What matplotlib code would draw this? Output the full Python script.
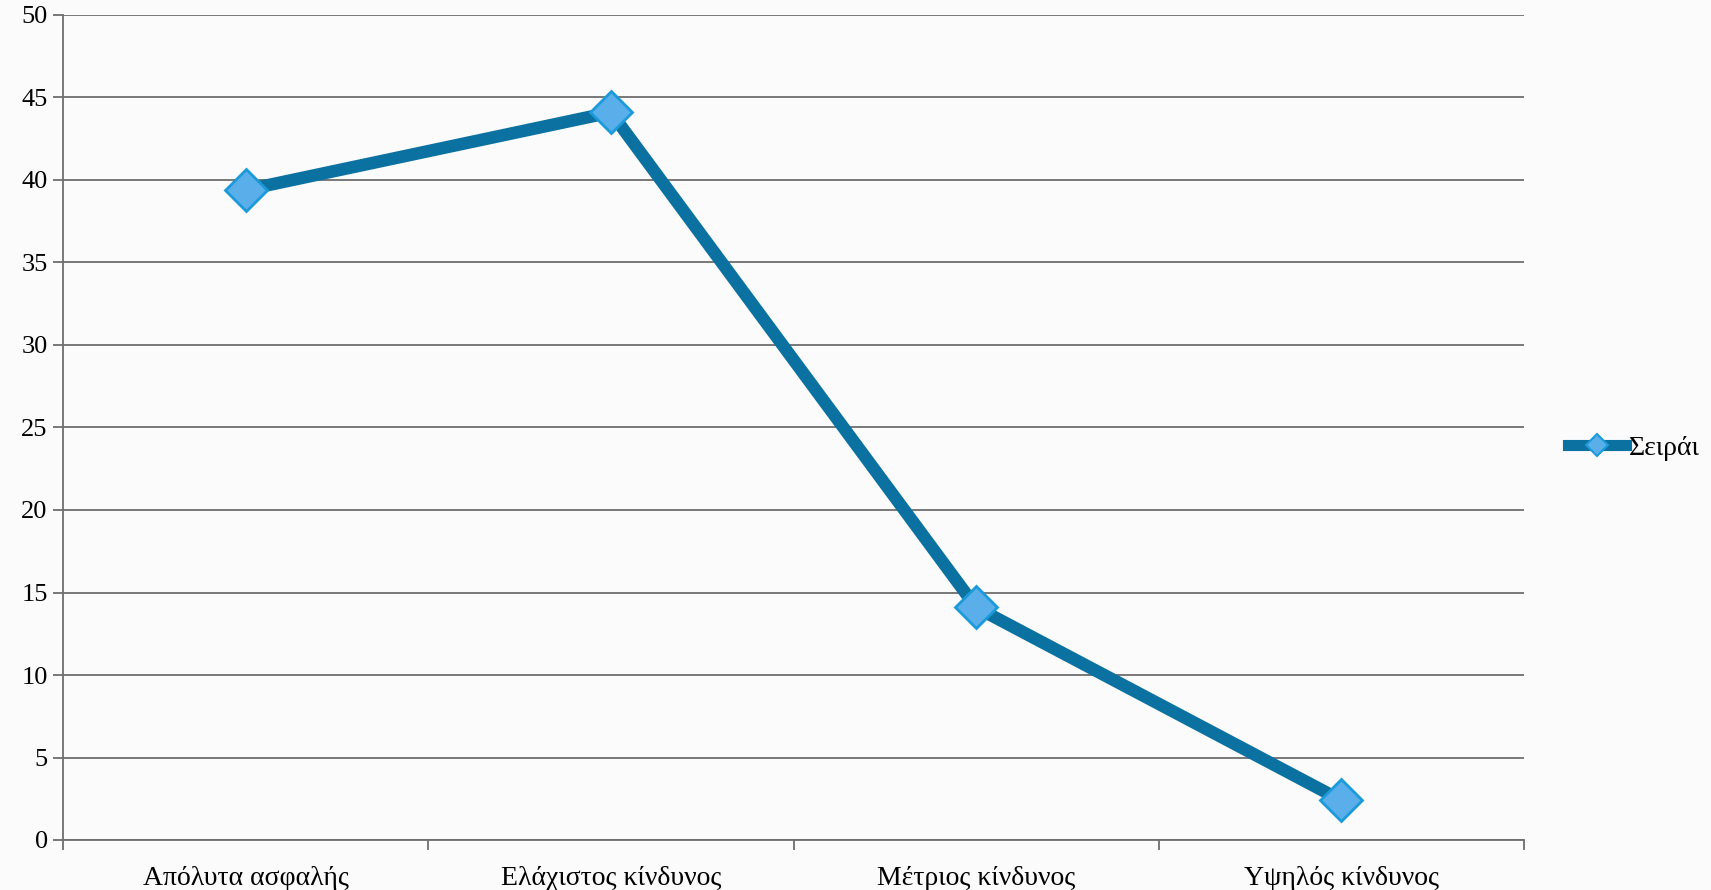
import matplotlib
matplotlib.use('Agg')
import matplotlib.pyplot as plt
from matplotlib.lines import Line2D

# Δεδομένα
categories = ['Απόλυτα ασφαλής', 'Ελάχιστος κίνδυνος', 'Μέτριος κίνδυνος', 'Υψηλός κίνδυνος']
values = [39.4, 44.1, 14.1, 2.4]
series_name = 'Σειράι'
y_ticks = [0, 5, 10, 15, 20, 25, 30, 35, 40, 45, 50]

plt.rcParams['font.family'] = ['Liberation Serif', 'DejaVu Serif']

fig = plt.figure(figsize=(17.11, 8.90), dpi=100)
fig.patch.set_facecolor('#fbfbfb')
ax = fig.add_axes([63 / 1711, (890 - 840) / 890, (1524 - 63) / 1711, (840 - 15) / 890])
ax.set_facecolor('#fbfbfb')

x = [i + 0.5 for i in range(len(categories))]

# Líneas de cuadrícula
for yv in y_ticks:
    ax.axhline(yv, color='#6e6e6e', linewidth=1.3, zorder=1)

ax.plot(x, values, color='#0a71a0', linewidth=9, solid_capstyle='butt',
        solid_joinstyle='miter', zorder=3)
ax.plot(x, values, linestyle='none', marker='D', markersize=21,
        markerfacecolor='#5aaeea', markeredgecolor='#1a9ad8', markeredgewidth=2, zorder=4)

ax.set_xlim(0, 4)
ax.set_ylim(0, 50)
ax.set_yticks(y_ticks)
ax.set_yticklabels([str(v) for v in y_ticks], fontsize=19)
ax.set_xticks([0, 1, 2, 3, 4])
ax.set_xticklabels([])
ax.set_xticks(x, minor=True)
ax.set_xticklabels(categories, minor=True, fontsize=20)
ax.tick_params(axis='x', which='minor', length=0, pad=19)
ax.tick_params(axis='x', which='major', length=7, width=1.3, color='#6e6e6e', direction='out')
ax.tick_params(axis='y', length=7, width=1.3, color='#6e6e6e', direction='out', pad=4)

for side in ['top', 'right']:
    ax.spines[side].set_visible(False)
ax.spines['left'].set_color('#6e6e6e')
ax.spines['left'].set_linewidth(1.3)
ax.spines['bottom'].set_color('#6e6e6e')
ax.spines['bottom'].set_linewidth(1.3)

handle = Line2D([], [], color='#0a71a0', linewidth=8, marker='D', markersize=11,
                markerfacecolor='#5aaeea', markeredgecolor='#1a9ad8', markeredgewidth=1.5)
fig.legend([handle], [series_name], loc='center left', bbox_to_anchor=(1568 / 1711, 1 - 448 / 890),
           frameon=False, fontsize=20, handlelength=2.1, handletextpad=0.1, borderpad=0,
           borderaxespad=0)

fig.savefig('out.png', dpi=100, facecolor=fig.get_facecolor())
